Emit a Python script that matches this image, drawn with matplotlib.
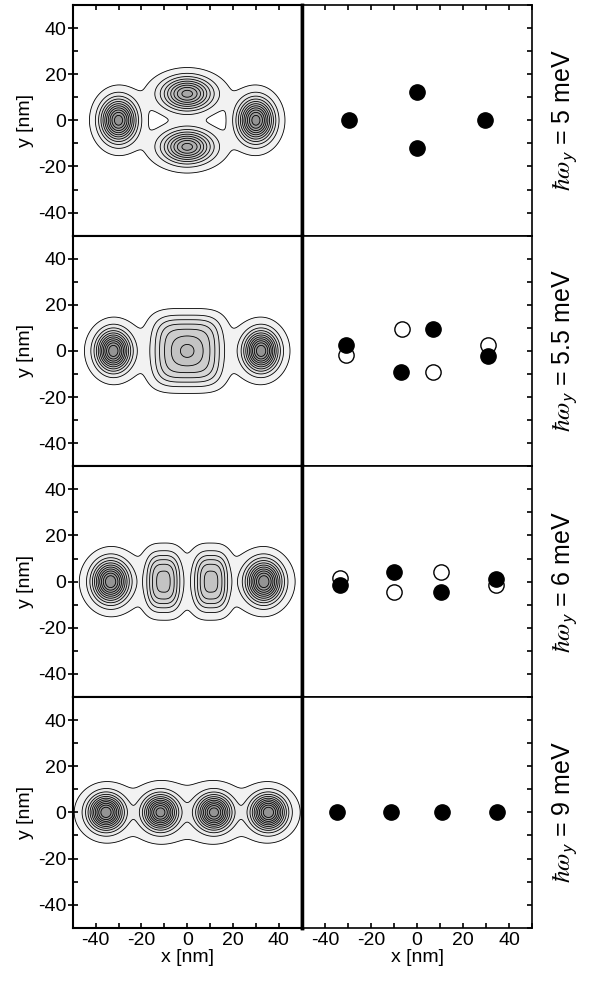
import numpy as np
import matplotlib
matplotlib.use('Agg')
import matplotlib.pyplot as plt
from matplotlib.ticker import MultipleLocator

# --- data ---
energies = ['5', '5.5', '6', '9']          # hbar*omega_y in meV, one per row

# density map of each row: sum of blobs  A*exp(-0.5*(|dx/sx|^q + |dy/sy|^q))
blob_x = [[-30, 30, 0, 0, 0, 0],
          [-32.3, 32.3, 0, 0, 0],
          [-33.5, 33.5, -10.5, 10.5, 0],
          [-35.5, -11.7, 11.7, 35.5, 0]]
blob_y = [[0, 0, 11.5, -11.5, 11.5, -11.5],
          [0, 0, 0, 0, 0],
          [0, 0, 0, 0, 0],
          [0, 0, 0, 0, 0]]
blob_sx = [[5.0, 5.0, 7, 7, 11, 11],
           [4.7, 4.7, 11.9, 4, 24],
           [5.0, 5.0, 5.5, 5.5, 26],
           [4.9, 4.8, 4.8, 4.9, 32]]
blob_sy = [[6.0, 6.0, 4.6, 4.6, 5, 5],
           [5.6, 5.6, 12.2, 4, 9],
           [5.8, 5.8, 9.4, 9.4, 9],
           [4.9, 4.8, 4.8, 4.9, 10]]
blob_amp = [[1, 1, 0.72, 0.72, 0.08, 0.08],
            [1, 1, 0.42, 0.12, 0.07],
            [1, 1, 0.45, 0.45, 0.08],
            [1, 0.95, 0.95, 1, 0.07]]
blob_q = [[2, 2, 2, 2, 2, 2],
          [2, 2, 4, 2, 2],
          [2, 2, 3, 3, 2],
          [2, 2, 2, 2, 2]]
levels = [0.04, 0.13, 0.22, 0.31, 0.40, 0.49, 0.58, 0.67, 0.76, 0.85, 0.94]

# classical electron positions (right column)
filled_x = [[-29.5, 0, 0, 29.6], [-30.9, 7.0, -7.0, 30.9],
            [-33.5, -10.1, 10.4, 34.2], [-34.9, -11.4, 10.8, 34.5]]
filled_y = [[0, 12.4, -12.2, 0], [2.6, 9.4, -9.0, -2.0],
            [-1.4, 4.1, -4.6, 1.0], [0, 0, 0, 0]]
open_x = [[], [-30.9, -6.7, 7.0, 30.9], [-33.5, -10.1, 10.4, 34.2], []]
open_y = [[], [-1.7, 9.4, -9.0, 2.6], [1.5, -4.3, 4.3, -1.4], []]

# --- style ---
plt.rcParams['font.family'] = ['Liberation Sans', 'DejaVu Sans']
plt.rcParams['mathtext.fontset'] = 'stix'
plt.rcParams['axes.unicode_minus'] = False

fig = plt.figure(figsize=(5.93, 9.86), dpi=100)

grid = np.linspace(-50, 50, 401)
X, Y = np.meshgrid(grid, grid)
greys = [str(g) for g in np.linspace(0.95, 0.58, len(levels))]

row_h = 0.234
bottoms = [0.7610, 0.5271, 0.2931, 0.0591]
ticks_major = [-40, -20, 0, 20, 40]

for i in range(4):
    # ---- left: density contour map ----
    axl = fig.add_axes([0.1226, bottoms[i], 0.3862, row_h])
    Z = np.zeros_like(X)
    for bx, by, sx, sy, a, q in zip(blob_x[i], blob_y[i], blob_sx[i],
                                    blob_sy[i], blob_amp[i], blob_q[i]):
        Z += a * np.exp(-0.5 * (np.abs((X - bx) / sx) ** q + np.abs((Y - by) / sy) ** q))
    axl.contourf(X, Y, Z, levels=levels + [Z.max() + 1], colors=greys)
    axl.contour(X, Y, Z, levels=levels, colors='k', linewidths=0.6)
    axl.set_xlim(-50, 50)
    axl.set_ylim(-50, 50)
    axl.set_yticks(ticks_major)
    axl.yaxis.set_minor_locator(MultipleLocator(10))
    axl.set_xticks(ticks_major)
    axl.xaxis.set_minor_locator(MultipleLocator(10))
    axl.tick_params(axis='y', which='major', direction='inout', length=7,
                    width=1.2, labelsize=14, pad=1)
    axl.tick_params(axis='y', which='minor', direction='in', length=3.5, width=1.2)
    axl.tick_params(axis='x', which='both', direction='in', length=3.5, width=1.2,
                    top=(i == 0), bottom=(i == 3), labelbottom=(i == 3),
                    labelsize=14, pad=3)
    axl.set_ylabel('y [nm]', fontsize=14, labelpad=3)
    for s in axl.spines.values():
        s.set_linewidth(1.5)
    axl.spines['right'].set_linewidth(2.5)

    # ---- right: electron positions ----
    axr = fig.add_axes([0.5093, bottoms[i], 0.3884, row_h])
    axr.plot(open_x[i], open_y[i], 'o', ms=11, mfc='white', mec='k', mew=1, zorder=2)
    axr.plot(filled_x[i], filled_y[i], 'o', ms=11, mfc='k', mec='k', mew=1, zorder=3)
    axr.set_xlim(-50, 50)
    axr.set_ylim(-50, 50)
    axr.set_xticks(ticks_major)
    axr.xaxis.set_minor_locator(MultipleLocator(10))
    axr.yaxis.set_major_locator(MultipleLocator(10))
    axr.tick_params(axis='y', which='both', direction='in', length=3.5, width=1.2,
                    left=False, right=True, labelleft=False)
    axr.tick_params(axis='x', which='both', direction='in', length=3.5, width=1.2,
                    top=(i == 0), bottom=(i == 3), labelbottom=(i == 3),
                    labelsize=14, pad=3)
    for s in axr.spines.values():
        s.set_linewidth(1.2)
    axr.spines['left'].set_linewidth(2.5)

    if i == 3:
        axl.set_xlabel('x [nm]', fontsize=14, labelpad=0)
        axr.set_xlabel('x [nm]', fontsize=14, labelpad=0)

    fig.text(0.953, bottoms[i] + row_h / 2,
             r'$\hbar\omega_{\mathsf{y}}$ = ' + energies[i] + ' meV',
             rotation=90, ha='center', va='center', fontsize=18)

fig.savefig('out.png', dpi=100)
